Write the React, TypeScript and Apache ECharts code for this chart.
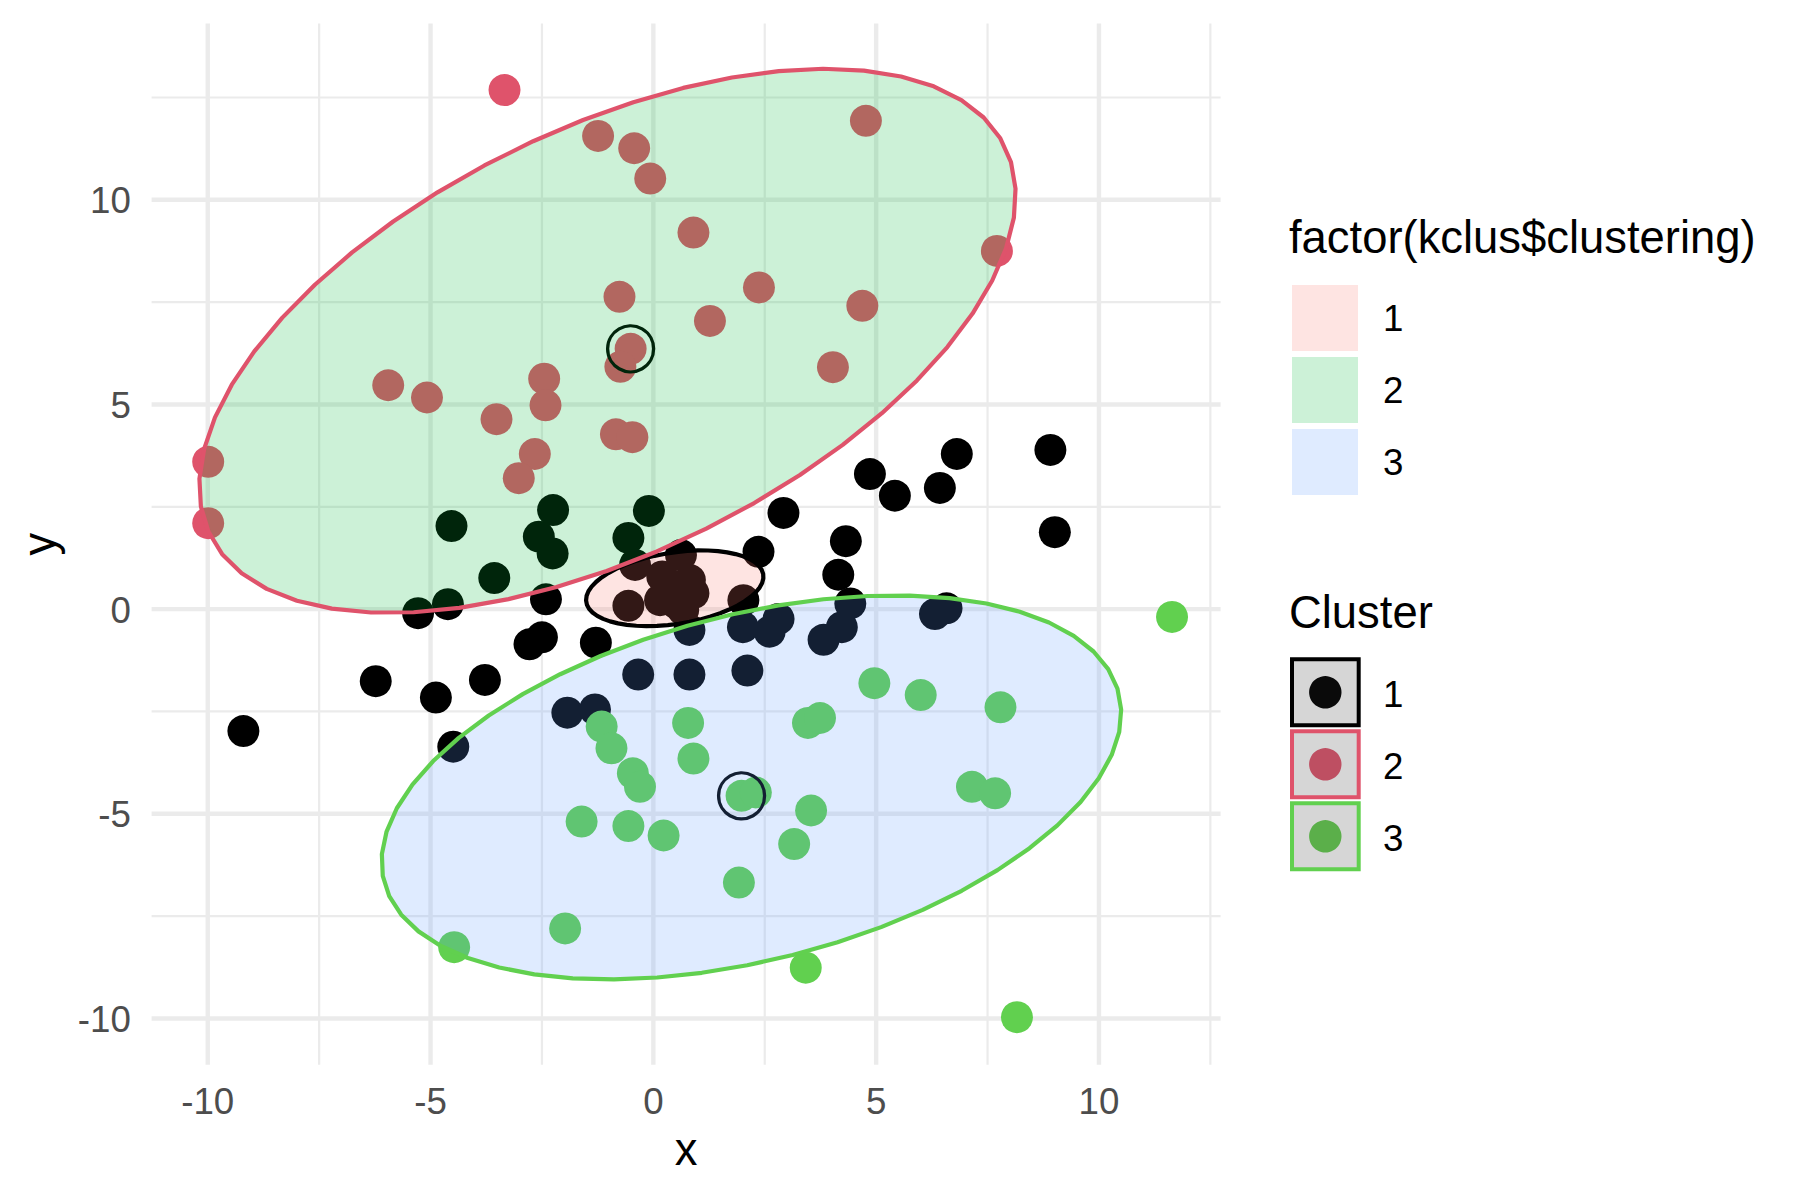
import React, { useEffect, useRef } from "react";
import * as echarts from "echarts";

const FONT = '"Liberation Sans", Arial, Helvetica, sans-serif';

// ---------- axes ----------
const xLimits = [-11.26, 12.73];
const yLimits = [-11.13, 14.31];
const xMajorTicks = [-10, -5, 0, 5, 10];
const xMinorTicks = [-7.5, -2.5, 2.5, 7.5, 12.5];
const yMajorTicks = [-10, -5, 0, 5, 10];
const yMinorTicks = [-7.5, -2.5, 2.5, 7.5, 12.5];
const xTickLabels = ["-10", "-5", "0", "5", "10"];
const yTickLabels = ["-10", "-5", "0", "5", "10"];
const xTitle = "x";
const yTitle = "y";

// ---------- clusters (points) ----------
const clusterNames = ["1", "2", "3"];
const clusterColors = ["#000000", "#DF536B", "#61D04F"];
const legendDotColors = ["#0A0A0A", "#BE4F62", "#5BAF4A"];

const cluster1Points = [
  [-4.53, 2.03], [-2.25, 2.42], [-2.57, 1.77], [-2.26, 1.36], [-0.1, 2.4], [-0.56, 1.74], [-3.57, 0.76], [-4.61, 0.12],
  [6.81, 3.79], [8.91, 3.89], [4.86, 3.3], [5.42, 2.77], [6.43, 2.96], [2.92, 2.35], [9.01, 1.88], [4.32, 1.66], [2.36, 1.4], [4.15, 0.84],
  [-9.2, -2.98], [-6.23, -1.76], [-4.88, -2.16], [-3.78, -1.73], [-2.78, -0.86], [-2.5, -0.69], [-1.29, -0.82], [-5.28, -0.1], [-2.41, 0.24],
  [-0.41, 1.08], [-0.56, 0.08], [0.62, 1.32], [0.2, 0.8], [0.3, 0.47], [0.82, 0.71], [0.9, 0.39], [0.52, 0.14], [0.15, 0.22], [0.67, -0.02], [2.02, 0.22],
  [4.42, 0.14], [4.23, -0.44], [3.82, -0.75], [6.58, 0.02], [6.32, -0.12], [2.81, -0.24], [2.01, -0.44], [2.61, -0.55], [2.11, -1.5],
  [0.81, -1.6], [-0.34, -1.6], [0.81, -0.51], [-1.93, -2.53], [-1.31, -2.45], [-4.49, -3.36],
];
const cluster2Points = [
  [-3.34, 12.68], [-1.24, 11.56], [-0.43, 11.26], [-0.07, 10.52], [0.9, 9.2], [-0.76, 7.63], [-0.51, 6.36], [-0.74, 5.92],
  [-5.95, 5.47], [-5.08, 5.17], [-2.45, 5.63], [-2.42, 4.98], [-3.52, 4.64], [-0.84, 4.27], [-0.47, 4.2], [-2.66, 3.79],
  [-3.02, 3.2], [-9.99, 3.6], [-9.99, 2.1], [1.27, 7.04], [4.77, 11.93], [2.37, 7.86], [4.69, 7.41], [4.03, 5.91], [7.71, 8.75],
];
const cluster3Points = [
  [4.96, -1.81], [6.0, -2.1], [7.79, -2.4], [3.47, -2.78], [3.74, -2.66], [0.78, -2.78], [0.9, -3.65], [1.98, -4.56],
  [2.3, -4.48], [7.15, -4.34], [7.67, -4.5], [3.54, -4.92], [3.16, -5.74], [1.92, -6.68], [-1.16, -2.87], [-0.94, -3.4],
  [-0.46, -4.01], [-0.3, -4.34], [-1.61, -5.19], [-0.56, -5.3], [0.23, -5.53], [-1.98, -7.8], [-4.47, -8.26],
  [3.42, -8.76], [8.16, -9.97], [11.64, -0.19],
];
const clusterPoints = [cluster1Points, cluster2Points, cluster3Points];

// medoids (circled points)
const medoidPoints = [[-0.51, 6.36], [1.98, -4.56]];

// ---------- ellipses (factor(kclus$clustering)) ----------
const ellipseLevels = ["1", "2", "3"];
const ellipseFills = ["rgba(248,118,109,0.2)", "rgba(0,186,56,0.2)", "rgba(97,156,255,0.2)"];
const ellipseCenterX = [0.48, -1.03, 2.2];
const ellipseCenterY = [0.51, 6.555, -4.355];
const ellipseSemiMajor = [2.015, 10.11, 8.562];
const ellipseSemiMinor = [0.869, 5.09, 4.193];
const ellipseAngleDeg = [10.0, 29.3, 16.36];
const ellipseSegments = 51;

function ellipseVertices(i: number): number[][] {
  const th = (ellipseAngleDeg[i] * Math.PI) / 180;
  const a = ellipseSemiMajor[i];
  const b = ellipseSemiMinor[i];
  const out: number[][] = [];
  for (let k = 0; k < ellipseSegments; k++) {
    const t = (2 * Math.PI * k) / ellipseSegments;
    const ex = a * Math.cos(t);
    const ey = b * Math.sin(t);
    out.push([
      ellipseCenterX[i] + ex * Math.cos(th) - ey * Math.sin(th),
      ellipseCenterY[i] + ex * Math.sin(th) + ey * Math.cos(th),
    ]);
  }
  return out;
}

// ---------- layout ----------
const GRID = { left: 151.6, right: 579.4, top: 23.4, bottom: 135.3 };
const TICK_FONT = 36.7;
const TITLE_FONT = 45.4;
const TICK_GAP = 20.7;

export default function App() {
  const ref = useRef<HTMLDivElement>(null);

  useEffect(() => {
    if (!ref.current) return;
    const chart = echarts.init(ref.current, null, { renderer: "svg" });

    const gridLineData: number[][] = [
      ...xMinorTicks.map((v) => [v, yLimits[0], 0, 0]),
      ...yMinorTicks.map((v) => [xLimits[0], v, 1, 0]),
      ...xMajorTicks.map((v) => [v, yLimits[0], 0, 1]),
      ...yMajorTicks.map((v) => [xLimits[0], v, 1, 1]),
    ];

    const series: any[] = [
      {
        type: "custom",
        name: "grid",
        z: 1,
        silent: true,
        clip: false,
        encode: { x: 0, y: 1 },
        data: gridLineData,
        renderItem: (params: any, api: any) => {
          const orient = api.value(2);
          const major = api.value(3);
          let p1, p2;
          if (orient === 0) {
            const v = api.value(0);
            p1 = api.coord([v, yLimits[0]]);
            p2 = api.coord([v, yLimits[1]]);
          } else {
            const v = api.value(1);
            p1 = api.coord([xLimits[0], v]);
            p2 = api.coord([xLimits[1], v]);
          }
          return {
            type: "line",
            shape: { x1: p1[0], y1: p1[1], x2: p2[0], y2: p2[1] },
            style: { stroke: "#EBEBEB", lineWidth: major ? 4.4 : 2.2 },
          };
        },
      },
      ...clusterPoints.map((pts, i) => ({
        type: "scatter",
        name: "Cluster " + clusterNames[i],
        z: 2,
        silent: true,
        symbol: "circle",
        symbolSize: 32,
        itemStyle: { color: clusterColors[i], opacity: 1 },
        emphasis: { disabled: true },
        data: pts,
      })),
      {
        type: "custom",
        name: "medoids",
        z: 3,
        silent: true,
        clip: false,
        encode: { x: 0, y: 1 },
        data: medoidPoints,
        renderItem: (params: any, api: any) => {
          const c = api.coord([api.value(0), api.value(1)]);
          return {
            type: "circle",
            shape: { cx: c[0], cy: c[1], r: 23 },
            style: { fill: "none", stroke: "#000000", lineWidth: 3.3 },
          };
        },
      },
      {
        type: "custom",
        name: "ellipses",
        z: 4,
        silent: true,
        clip: false,
        encode: { x: 0, y: 1 },
        data: ellipseCenterX.map((cx, i) => [cx, ellipseCenterY[i]]),
        renderItem: (params: any, api: any) => {
          const i = params.dataIndex;
          const pts = ellipseVertices(i).map((p) => api.coord(p));
          return {
            type: "polygon",
            shape: { points: pts },
            style: { fill: ellipseFills[i], stroke: clusterColors[i], lineWidth: 4.2, lineJoin: "round" },
          };
        },
      },
      {
        type: "custom",
        name: "xlabels",
        z: 5,
        silent: true,
        clip: false,
        encode: { x: 0, y: 1 },
        data: xMajorTicks.map((v) => [v, yLimits[0]]),
        renderItem: (params: any, api: any) => {
          const p = api.coord([api.value(0), yLimits[0]]);
          return {
            type: "text",
            x: p[0],
            y: p[1] + TICK_GAP + 16.2,
            style: {
              text: xTickLabels[params.dataIndex],
              fill: "#4D4D4D",
              font: `${TICK_FONT}px ${FONT}`,
              align: "center",
              verticalAlign: "middle",
            },
          };
        },
      },
      {
        type: "custom",
        name: "ylabels",
        z: 5,
        silent: true,
        clip: false,
        encode: { x: 0, y: 1 },
        data: yMajorTicks.map((v) => [xLimits[0], v]),
        renderItem: (params: any, api: any) => {
          const p = api.coord([xLimits[0], api.value(1)]);
          return {
            type: "text",
            x: p[0] - TICK_GAP,
            y: p[1] + 1,
            style: {
              text: yTickLabels[params.dataIndex],
              fill: "#4D4D4D",
              font: `${TICK_FONT}px ${FONT}`,
              align: "right",
              verticalAlign: "middle",
            },
          };
        },
      },
    ];

    const graphic: any[] = [];
    const panelCx = GRID.left + (1800 - GRID.left - GRID.right) / 2;
    const panelCy = GRID.top + (1200 - GRID.top - GRID.bottom) / 2;
    graphic.push({
      type: "text",
      x: panelCx,
      y: 1149.3,
      style: { text: xTitle, fill: "#000", font: `${TITLE_FONT}px ${FONT}`, align: "center", verticalAlign: "middle" },
    });
    graphic.push({
      type: "text",
      x: 39.5,
      y: panelCy,
      rotation: Math.PI / 2,
      style: { text: yTitle, fill: "#000", font: `${TITLE_FONT}px ${FONT}`, align: "center", verticalAlign: "middle" },
    });

    // legend 1: fill
    graphic.push({
      type: "text",
      x: 1289,
      y: 237.7,
      style: { text: "factor(kclus$clustering)", fill: "#000", font: `${TITLE_FONT}px ${FONT}`, align: "left", verticalAlign: "middle" },
    });
    ellipseLevels.forEach((lv, i) => {
      graphic.push({
        type: "rect",
        shape: { x: 1292, y: 285 + 72 * i, width: 66, height: 66 },
        style: { fill: ellipseFills[i] },
      });
      graphic.push({
        type: "text",
        x: 1383,
        y: 318.5 + 72 * i,
        style: { text: lv, fill: "#000", font: `${TICK_FONT}px ${FONT}`, align: "left", verticalAlign: "middle" },
      });
    });

    // legend 2: Cluster
    graphic.push({
      type: "text",
      x: 1289,
      y: 612.7,
      style: { text: "Cluster", fill: "#000", font: `${TITLE_FONT}px ${FONT}`, align: "left", verticalAlign: "middle" },
    });
    clusterNames.forEach((nm, i) => {
      graphic.push({
        type: "rect",
        shape: { x: 1292, y: 659.3 + 72 * i, width: 66.7, height: 66 },
        style: { fill: "#D6D6D6", stroke: clusterColors[i], lineWidth: 4 },
      });
      graphic.push({
        type: "circle",
        shape: { cx: 1325.3, cy: 692.3 + 72 * i, r: 16.2 },
        style: { fill: legendDotColors[i] },
      });
      graphic.push({
        type: "text",
        x: 1383,
        y: 694 + 72 * i,
        style: { text: nm, fill: "#000", font: `${TICK_FONT}px ${FONT}`, align: "left", verticalAlign: "middle" },
      });
    });

    chart.setOption({
      animation: false,
      backgroundColor: "#ffffff",
      grid: { ...GRID, containLabel: false, outerBoundsMode: "none" },
      xAxis: {
        type: "value",
        min: xLimits[0],
        max: xLimits[1],
        axisLine: { show: false },
        axisTick: { show: false },
        axisLabel: { show: false },
        splitLine: { show: false },
      },
      yAxis: {
        type: "value",
        min: yLimits[0],
        max: yLimits[1],
        axisLine: { show: false },
        axisTick: { show: false },
        axisLabel: { show: false },
        splitLine: { show: false },
      },
      series,
      graphic,
    });

    return () => chart.dispose();
  }, []);

  return (
    <div
      ref={ref}
      style={{ position: "absolute", left: 0, top: 0, width: 1800, height: 1200, background: "#fff" }}
    />
  );
}
